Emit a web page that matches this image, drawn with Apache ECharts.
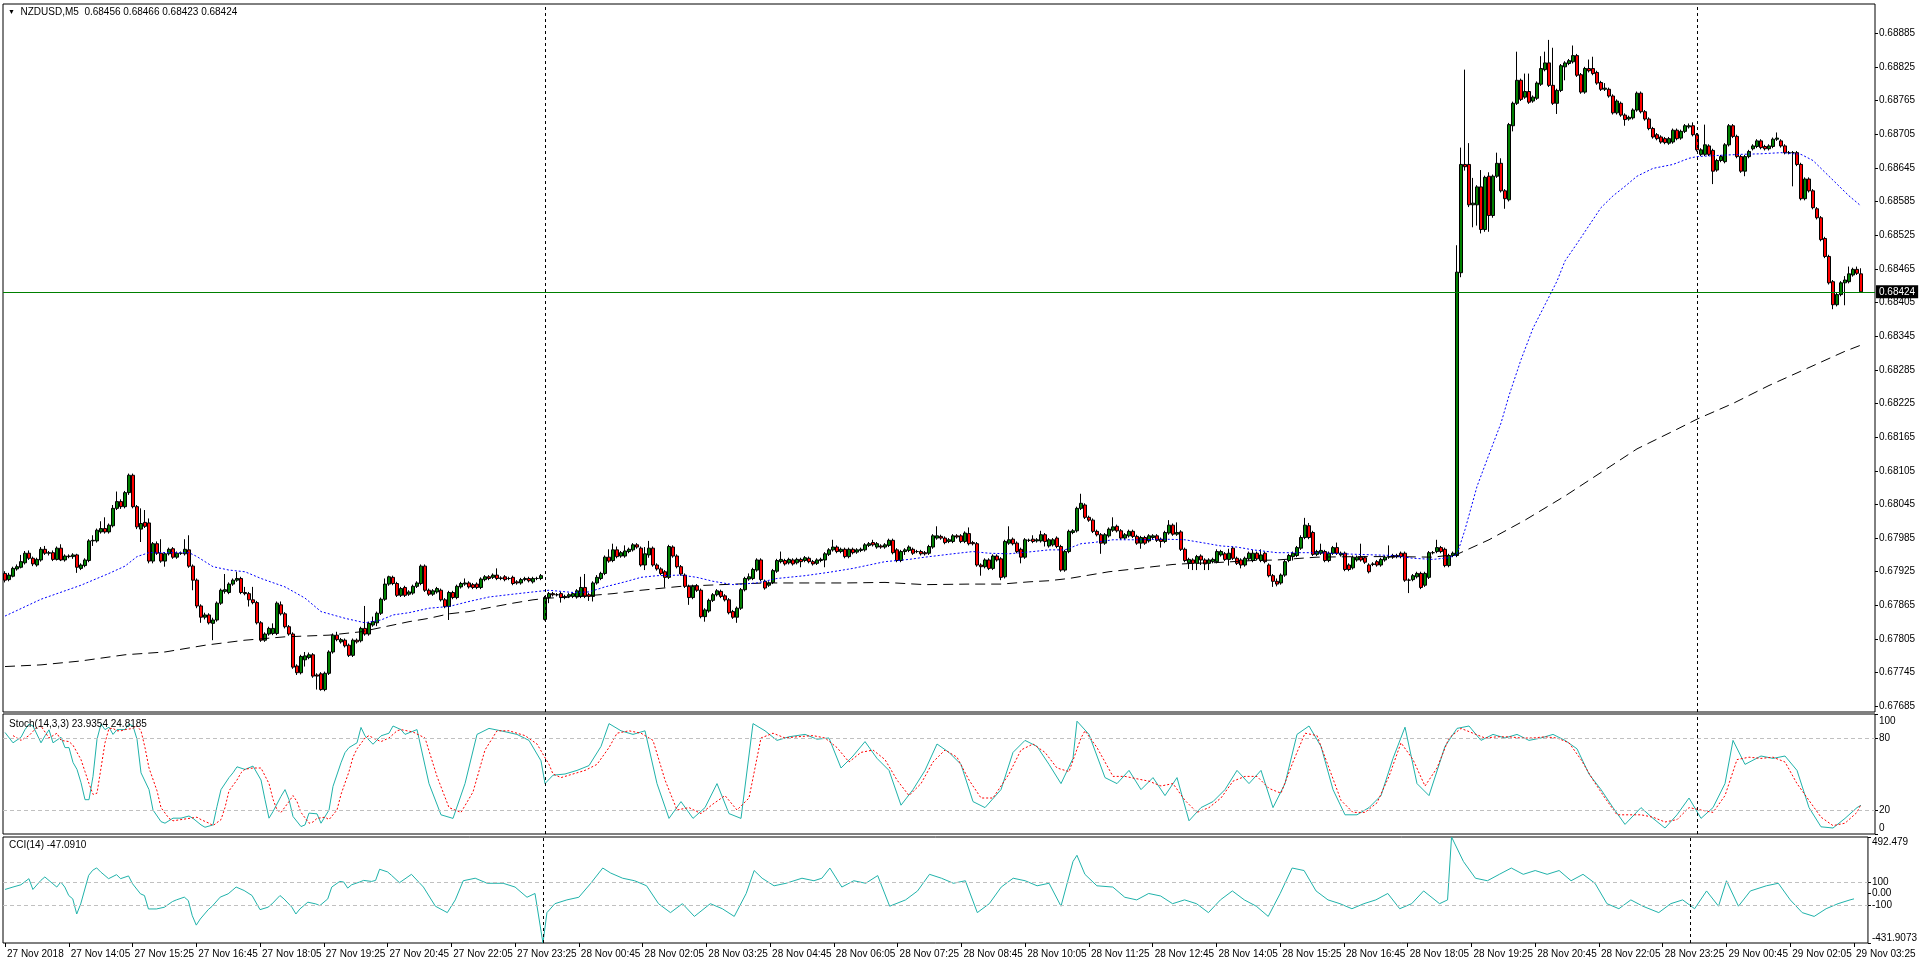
<!DOCTYPE html>
<html><head><meta charset="utf-8">
<script src="https://cdn.jsdelivr.net/npm/echarts@6.0.0/dist/echarts.min.js"></script>
<style>html,body{margin:0;padding:0;background:#fff;}#c{width:1920px;height:967px;}</style>
</head><body><div id="c"></div>
<script>
// ---------- data ----------
const mainTitle = 'NZDUSD,M5  0.68456 0.68466 0.68423 0.68424';
const stochTitle = 'Stoch(14,3,3) 23.9354 24.8185';
const cciTitle = 'CCI(14) -47.0910';
const lastPrice = 0.68424;
const daySeparators = ['28 Nov 00:00', '29 Nov 00:00'];
const timeTicks = ['27 Nov 2018','27 Nov 14:05','27 Nov 15:25','27 Nov 16:45','27 Nov 18:05','27 Nov 19:25','27 Nov 20:45','27 Nov 22:05','27 Nov 23:25','28 Nov 00:45','28 Nov 02:05','28 Nov 03:25','28 Nov 04:45','28 Nov 06:05','28 Nov 07:25','28 Nov 08:45','28 Nov 10:05','28 Nov 11:25','28 Nov 12:45','28 Nov 14:05','28 Nov 15:25','28 Nov 16:45','28 Nov 18:05','28 Nov 19:25','28 Nov 20:45','28 Nov 22:05','28 Nov 23:25','29 Nov 00:45','29 Nov 02:05','29 Nov 03:25'];
const priceTicks = [0.67685,0.67745,0.67805,0.67865,0.67925,0.67985,0.68045,0.68105,0.68165,0.68225,0.68285,0.68345,0.68405,0.68465,0.68525,0.68585,0.68645,0.68705,0.68765,0.68825,0.68885];
const stochTicks = [0,20,80,100];
const cciTicks = [-431.9073,-100,0,100,492.479];

const open = [
0.67922,0.67911,0.67917,0.67930,0.67933,0.67941,0.67958,0.67949,0.67937,0.67946,
0.67965,0.67958,0.67959,0.67947,0.67967,0.67946,0.67953,0.67952,0.67955,0.67931,
0.67936,0.67945,0.67980,0.67980,0.67996,0.68002,0.67996,0.68007,0.68038,0.68050,
0.68041,0.68066,0.68097,0.68041,0.68001,0.68013,0.68012,0.67944,0.67975,0.67958,
0.67944,0.67957,0.67966,0.67951,0.67958,0.67957,0.67964,0.67935,0.67910,0.67864,
0.67844,0.67848,0.67833,0.67839,0.67869,0.67890,0.67888,0.67903,0.67910,0.67913,
0.67888,0.67886,0.67875,0.67870,0.67834,0.67803,0.67814,0.67815,0.67815,0.67866,
0.67850,0.67827,0.67814,0.67757,0.67745,0.67768,0.67772,0.67777,0.67741,0.67743,
0.67715,0.67744,0.67782,0.67812,0.67800,0.67803,0.67794,0.67776,0.67803,0.67802,
0.67824,0.67814,0.67830,0.67834,0.67851,0.67876,0.67903,0.67915,0.67904,0.67883,
0.67897,0.67885,0.67887,0.67899,0.67904,0.67935,0.67892,0.67885,0.67889,0.67892,
0.67875,0.67863,0.67888,0.67879,0.67898,0.67903,0.67905,0.67902,0.67903,0.67897,
0.67911,0.67916,0.67915,0.67919,0.67913,0.67916,0.67913,0.67915,0.67907,0.67905,
0.67911,0.67913,0.67907,0.67913,0.67913,0.67840,0.67879,0.67886,0.67884,0.67886,
0.67879,0.67881,0.67881,0.67880,0.67881,0.67897,0.67884,0.67881,0.67905,0.67913,
0.67922,0.67951,0.67945,0.67964,0.67953,0.67953,0.67961,0.67964,0.67973,0.67967,
0.67937,0.67955,0.67967,0.67937,0.67930,0.67925,0.67915,0.67969,0.67953,0.67934,
0.67919,0.67899,0.67879,0.67900,0.67892,0.67845,0.67855,0.67874,0.67884,0.67890,
0.67882,0.67875,0.67854,0.67844,0.67860,0.67893,0.67912,0.67913,0.67928,0.67946,
0.67908,0.67901,0.67906,0.67926,0.67943,0.67945,0.67941,0.67946,0.67941,0.67947,
0.67945,0.67949,0.67943,0.67940,0.67945,0.67946,0.67956,0.67964,0.67969,0.67961,
0.67965,0.67952,0.67965,0.67960,0.67963,0.67964,0.67972,0.67977,0.67969,0.67971,
0.67969,0.67972,0.67981,0.67964,0.67945,0.67961,0.67963,0.67965,0.67961,0.67961,
0.67959,0.67958,0.67969,0.67985,0.67988,0.67985,0.67979,0.67979,0.67989,0.67989,
0.67979,0.67993,0.67977,0.67975,0.67937,0.67934,0.67946,0.67931,0.67953,0.67948,
0.67916,0.67976,0.67983,0.67976,0.67965,0.67951,0.67981,0.67983,0.67980,0.67980,
0.67991,0.67971,0.67973,0.67985,0.67970,0.67928,0.67961,0.67995,0.67998,0.68038,
0.68044,0.68022,0.68017,0.67997,0.67991,0.67976,0.67989,0.67999,0.68006,0.67998,
0.67985,0.67989,0.67997,0.67988,0.67976,0.67986,0.67980,0.67986,0.67989,0.67983,
0.67979,0.67994,0.68008,0.67992,0.67996,0.67965,0.67941,0.67946,0.67940,0.67953,
0.67946,0.67940,0.67943,0.67943,0.67955,0.67957,0.67947,0.67967,0.67949,0.67946,
0.67937,0.67948,0.67945,0.67958,0.67945,0.67958,0.67937,0.67918,0.67908,0.67905,
0.67919,0.67945,0.67952,0.67954,0.67967,0.67986,0.68007,0.67995,0.67956,0.67958,
0.67961,0.67945,0.67958,0.67968,0.67955,0.67958,0.67937,0.67932,0.67946,0.67951,
0.67950,0.67937,0.67938,0.67943,0.67937,0.67946,0.67951,0.67954,0.67954,0.67958,
0.67958,0.67910,0.67911,0.67916,0.67922,0.67901,0.67915,0.67959,0.67961,0.67968,
0.67965,0.67936,0.67954,0.67954,0.68458,0.68651,0.68651,0.68579,0.68579,0.68611,
0.68535,0.68630,0.68560,0.68630,0.68653,0.68604,0.68588,0.68720,0.68760,0.68801,
0.68771,0.68781,0.68764,0.68769,0.68794,0.68820,0.68832,0.68792,0.68760,0.68783,
0.68825,0.68831,0.68834,0.68845,0.68811,0.68780,0.68822,0.68822,0.68815,0.68797,
0.68785,0.68785,0.68773,0.68743,0.68760,0.68739,0.68732,0.68734,0.68748,0.68778,
0.68745,0.68732,0.68715,0.68704,0.68700,0.68697,0.68689,0.68691,0.68712,0.68698,
0.68710,0.68718,0.68720,0.68704,0.68669,0.68669,0.68684,0.68676,0.68641,0.68658,
0.68656,0.68686,0.68720,0.68701,0.68665,0.68639,0.68665,0.68679,0.68683,0.68693,
0.68683,0.68679,0.68683,0.68696,0.68693,0.68684,0.68672,0.68672,0.68672,0.68651,
0.68590,0.68625,0.68604,0.68572,0.68556,0.68519,0.68487,0.68442,0.68401,0.68419,
0.68440,0.68442,0.68454,0.68464,0.68456];

const high = [
0.67926,0.67923,0.67934,0.67938,0.67955,0.67962,0.67963,0.67952,0.67950,0.67969,
0.67971,0.67962,0.67963,0.67970,0.67974,0.67956,0.67956,0.67958,0.67957,0.67940,
0.67949,0.67983,0.67990,0.68002,0.68015,0.68022,0.68011,0.68044,0.68068,0.68054,
0.68069,0.68100,0.68100,0.68044,0.68038,0.68035,0.68020,0.67978,0.67979,0.67983,
0.67960,0.67968,0.67969,0.67961,0.67961,0.67983,0.67990,0.67938,0.67913,0.67867,
0.67852,0.67851,0.67843,0.67872,0.67895,0.67921,0.67906,0.67913,0.67925,0.67916,
0.67898,0.67889,0.67898,0.67873,0.67837,0.67817,0.67827,0.67833,0.67872,0.67872,
0.67853,0.67830,0.67817,0.67760,0.67777,0.67782,0.67781,0.67780,0.67744,0.67746,
0.67747,0.67785,0.67815,0.67818,0.67807,0.67806,0.67797,0.67806,0.67806,0.67827,
0.67864,0.67836,0.67845,0.67854,0.67879,0.67913,0.67918,0.67918,0.67907,0.67898,
0.67900,0.67892,0.67902,0.67908,0.67938,0.67938,0.67895,0.67894,0.67898,0.67895,
0.67878,0.67891,0.67891,0.67902,0.67907,0.67913,0.67908,0.67905,0.67906,0.67915,
0.67919,0.67919,0.67922,0.67931,0.67917,0.67919,0.67916,0.67918,0.67910,0.67914,
0.67916,0.67916,0.67916,0.67916,0.67921,0.67882,0.67889,0.67889,0.67887,0.67889,
0.67884,0.67887,0.67889,0.67894,0.67916,0.67921,0.67887,0.67908,0.67919,0.67925,
0.67954,0.67965,0.67975,0.67970,0.67962,0.67972,0.67968,0.67976,0.67976,0.67970,
0.67969,0.67980,0.67970,0.67940,0.67933,0.67928,0.67973,0.67972,0.67956,0.67937,
0.67922,0.67902,0.67902,0.67903,0.67895,0.67860,0.67877,0.67887,0.67894,0.67893,
0.67885,0.67878,0.67857,0.67863,0.67896,0.67916,0.67922,0.67932,0.67949,0.67949,
0.67911,0.67908,0.67930,0.67948,0.67961,0.67948,0.67950,0.67949,0.67950,0.67950,
0.67953,0.67952,0.67946,0.67949,0.67950,0.67960,0.67967,0.67982,0.67972,0.67968,
0.67968,0.67968,0.67968,0.67967,0.67968,0.67976,0.67978,0.67982,0.67978,0.67974,
0.67976,0.67984,0.67984,0.67967,0.67964,0.67967,0.67972,0.67968,0.67964,0.67964,
0.67962,0.67973,0.67992,0.68006,0.67991,0.67988,0.67985,0.67992,0.67992,0.67992,
0.67997,0.68004,0.67980,0.67978,0.67940,0.67949,0.67949,0.67956,0.67956,0.67951,
0.67982,0.68006,0.67986,0.67979,0.67968,0.67985,0.67984,0.67990,0.67985,0.67998,
0.67994,0.67985,0.67985,0.67988,0.67973,0.67964,0.68000,0.68001,0.68041,0.68064,
0.68047,0.68025,0.68020,0.68000,0.67994,0.67994,0.68004,0.68022,0.68009,0.68001,
0.67994,0.68000,0.68000,0.67991,0.67989,0.67989,0.67992,0.67992,0.67992,0.67986,
0.67998,0.68017,0.68011,0.68013,0.67999,0.67968,0.67950,0.67949,0.67955,0.67956,
0.67949,0.67949,0.67950,0.67965,0.67964,0.67960,0.67966,0.67970,0.67952,0.67949,
0.67952,0.67961,0.67964,0.67961,0.67965,0.67961,0.67940,0.67921,0.67913,0.67922,
0.67946,0.67957,0.67961,0.67971,0.67990,0.68021,0.68012,0.67998,0.67964,0.67975,
0.67964,0.67961,0.67971,0.67977,0.67961,0.67961,0.67940,0.67954,0.67954,0.67975,
0.67953,0.67940,0.67942,0.67946,0.67950,0.67954,0.67972,0.67957,0.67957,0.67961,
0.67961,0.67913,0.67921,0.67925,0.67925,0.67925,0.67962,0.67962,0.67982,0.67971,
0.67968,0.67957,0.67961,0.68507,0.68681,0.68820,0.68689,0.68627,0.68614,0.68641,
0.68631,0.68637,0.68633,0.68672,0.68662,0.68607,0.68725,0.68763,0.68852,0.68804,
0.68813,0.68813,0.68774,0.68799,0.68844,0.68852,0.68873,0.68859,0.68786,0.68830,
0.68835,0.68839,0.68863,0.68848,0.68814,0.68825,0.68838,0.68843,0.68818,0.68800,
0.68796,0.68788,0.68776,0.68767,0.68763,0.68742,0.68738,0.68751,0.68781,0.68781,
0.68748,0.68735,0.68718,0.68707,0.68703,0.68700,0.68700,0.68715,0.68715,0.68713,
0.68723,0.68724,0.68726,0.68707,0.68680,0.68722,0.68687,0.68679,0.68661,0.68668,
0.68689,0.68723,0.68723,0.68704,0.68668,0.68668,0.68677,0.68687,0.68696,0.68696,
0.68686,0.68687,0.68699,0.68708,0.68696,0.68687,0.68675,0.68675,0.68675,0.68654,
0.68628,0.68628,0.68607,0.68575,0.68559,0.68522,0.68490,0.68445,0.68422,0.68443,
0.68452,0.68469,0.68467,0.68469,0.68466];

const low = [
0.67906,0.67908,0.67915,0.67927,0.67931,0.67938,0.67946,0.67935,0.67934,0.67943,
0.67955,0.67954,0.67944,0.67945,0.67944,0.67943,0.67949,0.67948,0.67923,0.67928,
0.67933,0.67942,0.67971,0.67977,0.67993,0.67993,0.67993,0.68004,0.68035,0.68037,
0.68038,0.68062,0.68038,0.68001,0.67978,0.68003,0.67940,0.67940,0.67955,0.67941,
0.67934,0.67954,0.67948,0.67948,0.67955,0.67954,0.67932,0.67892,0.67860,0.67834,
0.67840,0.67831,0.67803,0.67836,0.67866,0.67886,0.67885,0.67900,0.67907,0.67885,
0.67883,0.67863,0.67867,0.67831,0.67800,0.67800,0.67811,0.67812,0.67812,0.67847,
0.67824,0.67811,0.67752,0.67741,0.67742,0.67756,0.67769,0.67736,0.67715,0.67713,
0.67712,0.67741,0.67779,0.67801,0.67797,0.67790,0.67773,0.67773,0.67797,0.67799,
0.67811,0.67811,0.67827,0.67828,0.67848,0.67873,0.67900,0.67901,0.67880,0.67880,
0.67880,0.67882,0.67884,0.67896,0.67901,0.67889,0.67882,0.67882,0.67886,0.67872,
0.67860,0.67839,0.67876,0.67876,0.67895,0.67900,0.67895,0.67894,0.67894,0.67894,
0.67908,0.67910,0.67912,0.67910,0.67910,0.67908,0.67910,0.67901,0.67902,0.67902,
0.67908,0.67906,0.67904,0.67910,0.67910,0.67838,0.67869,0.67881,0.67881,0.67870,
0.67876,0.67878,0.67878,0.67877,0.67878,0.67878,0.67873,0.67872,0.67902,0.67910,
0.67919,0.67941,0.67942,0.67949,0.67950,0.67950,0.67958,0.67961,0.67966,0.67934,
0.67928,0.67950,0.67934,0.67927,0.67919,0.67897,0.67912,0.67950,0.67931,0.67918,
0.67896,0.67866,0.67876,0.67889,0.67842,0.67836,0.67852,0.67871,0.67881,0.67878,
0.67872,0.67849,0.67841,0.67834,0.67857,0.67890,0.67909,0.67910,0.67925,0.67908,
0.67893,0.67898,0.67903,0.67923,0.67940,0.67936,0.67938,0.67936,0.67938,0.67933,
0.67942,0.67940,0.67936,0.67937,0.67942,0.67933,0.67953,0.67961,0.67958,0.67958,
0.67949,0.67949,0.67956,0.67957,0.67960,0.67961,0.67969,0.67970,0.67966,0.67966,
0.67966,0.67969,0.67956,0.67942,0.67942,0.67955,0.67960,0.67955,0.67958,0.67954,
0.67954,0.67955,0.67966,0.67982,0.67982,0.67974,0.67976,0.67976,0.67984,0.67976,
0.67976,0.67972,0.67972,0.67934,0.67918,0.67931,0.67928,0.67928,0.67943,0.67910,
0.67913,0.67973,0.67972,0.67958,0.67940,0.67948,0.67978,0.67976,0.67977,0.67977,
0.67970,0.67968,0.67970,0.67967,0.67925,0.67925,0.67958,0.67992,0.67995,0.68035,
0.68019,0.68014,0.67994,0.67988,0.67957,0.67973,0.67986,0.67996,0.67995,0.67982,
0.67982,0.67986,0.67985,0.67973,0.67966,0.67973,0.67977,0.67983,0.67978,0.67968,
0.67976,0.67991,0.67989,0.67989,0.67962,0.67942,0.67930,0.67928,0.67928,0.67937,
0.67928,0.67928,0.67940,0.67940,0.67952,0.67944,0.67936,0.67946,0.67937,0.67931,
0.67934,0.67945,0.67942,0.67945,0.67942,0.67940,0.67915,0.67898,0.67899,0.67902,
0.67916,0.67942,0.67945,0.67951,0.67964,0.67983,0.67983,0.67953,0.67953,0.67955,
0.67942,0.67942,0.67955,0.67955,0.67952,0.67926,0.67926,0.67929,0.67943,0.67943,
0.67939,0.67922,0.67935,0.67934,0.67934,0.67943,0.67948,0.67948,0.67949,0.67949,
0.67907,0.67887,0.67908,0.67913,0.67894,0.67898,0.67912,0.67956,0.67958,0.67958,
0.67933,0.67933,0.67951,0.67951,0.68450,0.68640,0.68575,0.68539,0.68542,0.68528,
0.68531,0.68531,0.68556,0.68627,0.68601,0.68572,0.68585,0.68710,0.68757,0.68764,
0.68768,0.68759,0.68761,0.68766,0.68791,0.68817,0.68789,0.68757,0.68741,0.68780,
0.68801,0.68828,0.68831,0.68807,0.68777,0.68777,0.68815,0.68810,0.68793,0.68782,
0.68782,0.68770,0.68740,0.68740,0.68736,0.68720,0.68729,0.68731,0.68745,0.68742,
0.68729,0.68712,0.68697,0.68694,0.68688,0.68687,0.68686,0.68688,0.68694,0.68695,
0.68707,0.68715,0.68701,0.68674,0.68666,0.68666,0.68666,0.68616,0.68638,0.68655,
0.68653,0.68683,0.68698,0.68662,0.68636,0.68630,0.68662,0.68676,0.68680,0.68678,
0.68676,0.68676,0.68680,0.68693,0.68681,0.68669,0.68669,0.68612,0.68648,0.68587,
0.68587,0.68601,0.68571,0.68553,0.68514,0.68484,0.68437,0.68393,0.68398,0.68416,
0.68400,0.68439,0.68451,0.68454,0.68423];

const close = [
0.67910,0.67919,0.67931,0.67934,0.67943,0.67958,0.67949,0.67939,0.67947,0.67965,
0.67958,0.67959,0.67947,0.67967,0.67946,0.67953,0.67952,0.67955,0.67933,0.67937,
0.67946,0.67980,0.67981,0.67999,0.68002,0.67996,0.68008,0.68038,0.68050,0.68041,
0.68066,0.68097,0.68041,0.68005,0.68011,0.68006,0.67944,0.67975,0.67958,0.67944,
0.67957,0.67965,0.67951,0.67958,0.67958,0.67965,0.67935,0.67910,0.67864,0.67844,
0.67848,0.67834,0.67839,0.67869,0.67892,0.67893,0.67903,0.67910,0.67913,0.67888,
0.67886,0.67875,0.67870,0.67834,0.67803,0.67814,0.67824,0.67824,0.67869,0.67850,
0.67827,0.67814,0.67755,0.67745,0.67774,0.67775,0.67777,0.67739,0.67739,0.67715,
0.67744,0.67782,0.67812,0.67804,0.67804,0.67793,0.67776,0.67803,0.67800,0.67824,
0.67814,0.67833,0.67836,0.67851,0.67876,0.67903,0.67916,0.67904,0.67883,0.67895,
0.67883,0.67889,0.67899,0.67905,0.67935,0.67892,0.67885,0.67891,0.67895,0.67875,
0.67863,0.67888,0.67879,0.67899,0.67904,0.67905,0.67898,0.67897,0.67897,0.67912,
0.67916,0.67913,0.67919,0.67913,0.67914,0.67911,0.67913,0.67904,0.67905,0.67911,
0.67913,0.67909,0.67913,0.67913,0.67918,0.67879,0.67886,0.67884,0.67884,0.67879,
0.67881,0.67884,0.67886,0.67891,0.67897,0.67881,0.67881,0.67905,0.67915,0.67922,
0.67951,0.67944,0.67964,0.67952,0.67959,0.67962,0.67965,0.67973,0.67969,0.67937,
0.67957,0.67967,0.67937,0.67930,0.67922,0.67915,0.67970,0.67953,0.67934,0.67921,
0.67899,0.67879,0.67899,0.67892,0.67845,0.67857,0.67874,0.67884,0.67891,0.67881,
0.67875,0.67852,0.67844,0.67860,0.67893,0.67913,0.67916,0.67929,0.67946,0.67911,
0.67896,0.67905,0.67927,0.67945,0.67947,0.67939,0.67947,0.67939,0.67947,0.67943,
0.67950,0.67943,0.67939,0.67946,0.67947,0.67957,0.67964,0.67969,0.67961,0.67965,
0.67952,0.67965,0.67959,0.67964,0.67965,0.67973,0.67975,0.67973,0.67975,0.67969,
0.67973,0.67981,0.67959,0.67945,0.67961,0.67964,0.67969,0.67958,0.67961,0.67957,
0.67957,0.67970,0.67989,0.67989,0.67985,0.67977,0.67982,0.67989,0.67987,0.67979,
0.67994,0.67975,0.67975,0.67937,0.67934,0.67946,0.67931,0.67953,0.67946,0.67915,
0.67979,0.67982,0.67975,0.67961,0.67951,0.67982,0.67981,0.67979,0.67982,0.67991,
0.67979,0.67982,0.67982,0.67970,0.67928,0.67961,0.67997,0.67998,0.68038,0.68047,
0.68022,0.68017,0.67997,0.67991,0.67976,0.67991,0.68001,0.68005,0.67998,0.67985,
0.67991,0.67997,0.67988,0.67976,0.67986,0.67976,0.67989,0.67989,0.67981,0.67979,
0.67995,0.68008,0.67992,0.67995,0.67965,0.67945,0.67947,0.67940,0.67952,0.67946,
0.67939,0.67946,0.67947,0.67961,0.67961,0.67947,0.67958,0.67949,0.67940,0.67937,
0.67949,0.67958,0.67958,0.67948,0.67955,0.67943,0.67918,0.67908,0.67903,0.67919,
0.67943,0.67954,0.67958,0.67968,0.67986,0.68008,0.67986,0.67956,0.67961,0.67963,
0.67945,0.67958,0.67968,0.67958,0.67958,0.67929,0.67929,0.67951,0.67951,0.67946,
0.67942,0.67925,0.67939,0.67937,0.67947,0.67951,0.67952,0.67951,0.67952,0.67952,
0.67910,0.67910,0.67918,0.67922,0.67897,0.67922,0.67959,0.67959,0.67968,0.67961,
0.67936,0.67954,0.67958,0.68459,0.68651,0.68647,0.68579,0.68582,0.68611,0.68535,
0.68628,0.68560,0.68630,0.68653,0.68604,0.68590,0.68722,0.68760,0.68801,0.68767,
0.68781,0.68762,0.68771,0.68796,0.68822,0.68832,0.68792,0.68760,0.68783,0.68827,
0.68832,0.68836,0.68845,0.68810,0.68780,0.68822,0.68818,0.68813,0.68796,0.68785,
0.68787,0.68773,0.68743,0.68764,0.68739,0.68731,0.68735,0.68748,0.68778,0.68745,
0.68732,0.68715,0.68700,0.68697,0.68691,0.68690,0.68697,0.68712,0.68697,0.68710,
0.68720,0.68720,0.68704,0.68677,0.68677,0.68686,0.68669,0.68639,0.68658,0.68665,
0.68686,0.68720,0.68701,0.68665,0.68639,0.68665,0.68674,0.68684,0.68693,0.68681,
0.68679,0.68684,0.68696,0.68698,0.68684,0.68672,0.68672,0.68672,0.68651,0.68590,
0.68625,0.68604,0.68574,0.68556,0.68517,0.68487,0.68440,0.68401,0.68419,0.68440,
0.68445,0.68456,0.68464,0.68457,0.68424];

// moving averages: [bar index, value]
const maFast = [[0,0.67846],[9,0.67876],[19,0.67901],[26,0.67922],[30,0.67935],[33,0.67952],[36,0.67959],[46,0.67959],[48,0.67952],[52,0.67934],[56,0.67928],[60,0.67925],[64,0.67913],[70,0.67898],[75,0.67878],[79,0.67854],[85,0.67842],[90,0.67834],[94,0.67839],[97,0.67848],[101,0.67852],[106,0.67860],[111,0.67863],[116,0.67872],[121,0.67880],[127,0.67885],[132,0.67889],[136,0.67892],[142,0.67888],[146,0.67889],[150,0.67898],[155,0.67907],[159,0.67915],[163,0.67918],[169,0.67919],[173,0.67915],[177,0.67908],[182,0.67902],[188,0.67905],[193,0.67913],[200,0.67918],[206,0.67924],[212,0.67931],[220,0.67943],[226,0.67947],[230,0.67951],[237,0.67957],[242,0.67961],[246,0.67958],[251,0.67957],[257,0.67961],[261,0.67964],[265,0.67964],[269,0.67975],[272,0.67977],[277,0.67982],[283,0.67982],[290,0.67983],[295,0.67982],[300,0.67976],[304,0.67971],[308,0.67969],[312,0.67964],[318,0.67959],[328,0.67959],[338,0.67956],[347,0.67954],[352,0.67949],[357,0.67947],[361,0.67950],[363,0.67956],[365,0.68000],[368,0.68077],[371,0.68134],[374,0.68190],[376,0.68239],[379,0.68303],[382,0.68359],[385,0.68401],[388,0.68443],[390,0.68479],[393,0.68510],[396,0.68542],[399,0.68574],[402,0.68595],[405,0.68612],[408,0.68630],[412,0.68644],[417,0.68651],[421,0.68662],[423,0.68665],[428,0.68667],[434,0.68669],[439,0.68670],[444,0.68672],[449,0.68669],[452,0.68658],[455,0.68637],[458,0.68616],[461,0.68595],[464,0.68577]];
const maSlow = [[0,0.67756],[9,0.67759],[19,0.67766],[30,0.67777],[40,0.67782],[50,0.67794],[60,0.67803],[70,0.67809],[81,0.67812],[89,0.67818],[93,0.67824],[97,0.67830],[101,0.67836],[106,0.67842],[111,0.67850],[116,0.67854],[121,0.67861],[127,0.67869],[132,0.67875],[136,0.67878],[142,0.67880],[147,0.67883],[152,0.67886],[159,0.67892],[169,0.67899],[179,0.67902],[190,0.67905],[200,0.67905],[210,0.67905],[220,0.67906],[230,0.67902],[241,0.67903],[249,0.67903],[256,0.67907],[261,0.67909],[266,0.67913],[271,0.67919],[276,0.67925],[281,0.67929],[287,0.67934],[292,0.67938],[297,0.67940],[302,0.67941],[307,0.67943],[312,0.67945],[318,0.67946],[328,0.67951],[338,0.67952],[347,0.67952],[357,0.67951],[363,0.67956],[371,0.67982],[380,0.68017],[390,0.68060],[399,0.68102],[408,0.68144],[418,0.68179],[423,0.68197],[432,0.68225],[441,0.68257],[451,0.68289],[460,0.68318],[464,0.68329]];

// stochastic %K (teal) and %D (red dotted): [bar index, value]
const stochK = [[0,84.6],[2,76],[4,80.6],[5,87],[6,91.6],[7,90],[9,76],[10,81.8],[11,86.8],[12,76],[14,80.6],[15,72],[16,72],[17,59.6],[18,53.8],[19,42.8],[20,28.6],[21,28.6],[22,48],[23,79],[24,91.6],[25,87],[26,89],[27,83],[28,87],[30,87],[31,91.6],[32,90],[33,79],[34,51],[36,37],[37,20],[39,10.3],[40,9],[42,13.2],[44,13.2],[46,15],[47,13],[49,7.6],[50,5.6],[52,7.6],[53,23],[54,37],[56,47],[57,51],[58,56],[60,53.8],[62,56.6],[64,45],[65,28.6],[66,13.2],[67,18.7],[69,31.4],[70,37],[71,28.6],[72,14.6],[74,6.2],[75,7.6],[76,17.4],[78,16.8],[79,9],[81,20],[82,39.7],[84,59.4],[85,67.8],[86,72],[88,76],[89,88.8],[90,81.8],[92,74.8],[94,81.8],[96,84],[97,90],[99,87],[100,83],[103,87],[106,42],[109,16],[112,13],[115,42],[118,83],[121,88],[124,86],[128,83],[131,78],[134,61],[135,42],[137,49],[140,50],[143,53],[146,57],[149,73],[151,92],[154,86],[157,83],[160,86],[163,42],[166,13],[169,27],[172,13],[175,22],[178,42],[181,17],[184,13],[187,92],[190,86],[193,78],[196,81],[200,83],[203,79],[206,80],[209,55],[212,65],[215,77],[218,63],[221,53],[224,24],[227,37],[230,53],[233,75],[236,68],[239,58],[242,27],[245,22],[249,37],[252,68],[255,78],[258,73],[261,58],[264,42],[267,63],[268,94],[271,83],[275,47],[278,42],[281,53],[284,37],[287,47],[290,32],[293,47],[296,11],[299,22],[302,27],[305,37],[308,53],[311,42],[314,53],[317,22],[320,42],[323,83],[326,90],[329,73],[332,37],[335,16],[338,16],[341,22],[344,32],[347,63],[350,89],[353,42],[356,32],[360,73],[363,88],[366,90],[369,78],[372,83],[375,80],[378,83],[381,78],[384,80],[387,83],[390,78],[393,71],[396,50],[399,37],[402,22],[405,8],[409,22],[412,13],[415,5],[418,16],[421,30],[424,13],[427,22],[430,42],[432,78],[435,58],[439,65],[442,63],[445,65],[448,53],[451,22],[454,6],[457,5],[460,13],[463,22],[464,23.9354]];
const stochD = [[2,82],[4,78],[6,82],[8,89],[9,90],[11,80],[12,82],[13,84],[14,78],[16,77],[17,74],[18,68],[19,62],[20,52],[21,42],[22,33],[23,34],[24,55],[25,76],[26,88],[27,88],[28,86],[29,86],[30,87],[32,88],[33,90],[34,86],[35,72],[36,55],[38,36],[39,22],[41,13],[42,11],[44,12],[46,13],[48,14],[49,12],[51,9],[52,7],[54,12],[55,22],[56,36],[58,45],[59,51],[60,54],[62,55],[64,55],[66,42],[67,29],[68,20],[69,18],[71,27],[72,32],[73,27],[74,18],[76,9],[77,10],[78,13],[80,14],[81,12],[83,20],[84,33],[86,52],[87,64],[88,71],[90,80],[91,82],[92,80],[94,77],[96,80],[98,86],[99,87],[102,85],[105,80],[108,48],[111,22],[114,18],[117,35],[120,70],[123,86],[126,86],[130,82],[133,75],[136,58],[137,50],[139,47],[142,50],[145,53],[148,58],[151,72],[153,84],[156,86],[159,84],[162,78],[165,45],[168,20],[171,22],[174,17],[177,25],[180,32],[183,20],[186,30],[189,80],[192,84],[195,80],[198,81],[202,82],[205,80],[208,72],[211,60],[214,68],[217,70],[220,62],[223,45],[226,32],[229,42],[232,60],[235,70],[238,64],[241,45],[244,30],[247,30],[251,50],[254,70],[257,75],[260,68],[263,55],[266,52],[269,80],[270,86],[273,72],[277,48],[280,48],[283,46],[286,44],[289,40],[292,42],[295,28],[298,18],[301,22],[304,30],[307,44],[310,48],[313,48],[316,38],[319,34],[322,60],[325,84],[328,82],[331,55],[334,28],[337,18],[340,18],[343,26],[346,48],[349,76],[352,62],[355,40],[358,55],[361,80],[364,88],[367,84],[370,80],[373,81],[376,81],[379,80],[382,80],[385,81],[388,80],[391,76],[394,62],[397,45],[400,30],[403,16],[406,16],[409,16],[412,14],[415,10],[418,12],[421,22],[424,20],[427,18],[430,32],[433,62],[436,64],[439,63],[442,64],[445,60],[448,42],[451,28],[454,14],[457,7],[460,9],[463,18],[464,24.8185]];

// CCI(14): [bar index, value]
const cci = [[0,35],[2,56],[4,76],[6,129],[7,35],[9,114],[10,144],[12,85],[13,56],[14,100],[15,56],[16,-18],[17,-47],[18,-179],[19,-91],[21,158],[22,202],[23,223],[24,188],[26,129],[28,164],[29,129],[31,153],[32,85],[34,-3],[35,-18],[36,-135],[38,-135],[40,-120],[42,-71],[43,-56],[45,-32],[46,-62],[47,-194],[48,-276],[49,-223],[51,-141],[52,-111],[54,-32],[56,-3],[57,26],[58,56],[60,26],[62,-18],[64,-141],[66,-120],[67,-91],[69,-18],[70,-47],[72,-120],[73,-179],[74,-135],[76,-76],[78,-91],[79,-106],[81,-47],[82,56],[84,105],[85,100],[86,47],[87,76],[89,100],[90,114],[92,105],[93,114],[94,211],[96,188],[97,158],[99,94],[102,167],[105,56],[108,-111],[111,-167],[113,-56],[115,111],[118,133],[121,89],[125,89],[128,56],[131,-33],[133,0],[135,-431.9073],[136,-167],[138,-89],[141,-56],[144,-33],[147,89],[150,222],[152,178],[155,133],[158,111],[161,67],[164,-89],[167,-167],[170,-89],[173,-200],[177,-89],[180,-133],[183,-200],[186,0],[188,200],[190,133],[193,67],[196,89],[200,133],[203,111],[205,133],[207,222],[210,56],[213,111],[216,89],[219,156],[222,-111],[226,-56],[229,22],[232,167],[235,133],[238,89],[241,111],[244,-167],[247,-89],[250,56],[253,133],[256,111],[259,67],[262,89],[265,-111],[268,278],[269,333],[271,167],[274,67],[278,56],[281,-33],[284,-56],[287,0],[290,-22],[293,-89],[296,-56],[299,-89],[302,-167],[305,-56],[308,22],[311,-56],[314,-111],[317,-200],[320,0],[323,222],[326,200],[329,22],[332,-56],[335,-89],[338,-133],[341,-89],[344,-56],[347,0],[350,-133],[353,-89],[356,22],[360,-89],[362,-56],[363,492.479],[366,278],[369,133],[372,111],[375,167],[378,222],[381,167],[384,200],[387,167],[390,200],[393,111],[396,167],[399,89],[402,-89],[405,-133],[408,-56],[411,-111],[415,-167],[418,-89],[421,-56],[424,-133],[427,22],[430,-111],[432,111],[435,-111],[438,22],[442,67],[445,89],[448,-56],[451,-167],[454,-200],[457,-133],[460,-89],[463,-56],[464,-47.091]];

// ---------- chart ----------
const FONT = '"Liberation Sans", Arial, sans-serif';
const N = close.length;
const MON = ['Jan','Feb','Mar','Apr','May','Jun','Jul','Aug','Sep','Oct','Nov','Dec'];
const t0 = Date.UTC(2018, 10, 27, 12, 45);
const cats = [];
for (let i = 0; i < N; i++) {
  const d = new Date(t0 + i * 300000);
  cats.push(d.getUTCDate() + ' ' + MON[d.getUTCMonth()] + ' ' +
    String(d.getUTCHours()).padStart(2, '0') + ':' + String(d.getUTCMinutes()).padStart(2, '0'));
}
for (let k = 0; k < 3; k++) cats.push('pad' + k);

const ohlc = open.map((o, i) => [o, close[i], low[i], high[i]]);

const L = 3, W = 1872;
const grids = [
  { left: L, top: 4, width: W, height: 708 },
  { left: L, top: 714, width: W, height: 120 },
  { left: L, top: 837, width: W, height: 106 }
].map(g => Object.assign(g, { show: true, borderColor: '#000', borderWidth: 1, backgroundColor: 'transparent' }));

const sepLines = daySeparators.map(s => ({ xAxis: s, lineStyle: { color: '#000', type: [3, 3], width: 1 }, label: { show: false } }));
const levelStyle = { color: '#c0c0c0', type: [4, 3], width: 1 };
const lblBase = { color: '#000', fontSize: 10, fontFamily: FONT };

const xAxes = [0, 1, 2].map(g => ({
  type: 'category', gridIndex: g, data: cats, boundaryGap: true, position: 'bottom',
  axisLine: { show: false, onZero: false },
  splitLine: { show: false },
  axisTick: { show: g === 2, interval: 15, alignWithLabel: true, length: 4, lineStyle: { color: '#000' } },
  axisLabel: {
    show: g === 2, interval: 15, align: 'left', margin: 6, padding: [0, 0, 0, 2],
    color: '#000', fontSize: 10, fontFamily: FONT,
    formatter: (v, idx) => (idx < N && idx % 16 === 0) ? (timeTicks[idx / 16] || '') : ''
  }
}));

const yAxes = [
  {
    type: 'value', gridIndex: 0, position: 'right', min: 0.67675, max: 0.68937,
    splitLine: { show: false }, axisLine: { show: false, onZero: false },
    axisTick: { show: true, length: 3, customValues: priceTicks, lineStyle: { color: '#000' } },
    axisLabel: Object.assign({ customValues: priceTicks, margin: 4, formatter: v => v.toFixed(5) }, lblBase)
  },
  {
    type: 'value', gridIndex: 1, position: 'right', min: 0, max: 100,
    splitLine: { show: false }, axisLine: { show: false, onZero: false },
    axisTick: { show: true, length: 3, customValues: stochTicks, lineStyle: { color: '#000' } },
    axisLabel: Object.assign({
      customValues: stochTicks, margin: 4,
      formatter: v => v === 100 ? '{t|100}' : (v === 0 ? '{b|0}' : String(v)),
      rich: { t: Object.assign({ padding: [15, 0, 0, 0] }, lblBase), b: Object.assign({ padding: [0, 0, 12, 0] }, lblBase) }
    }, lblBase)
  },
  {
    type: 'value', gridIndex: 2, position: 'right', min: -431.9073, max: 492.479,
    splitLine: { show: false }, axisLine: { show: false, onZero: false },
    axisTick: { show: true, length: 3, customValues: cciTicks, lineStyle: { color: '#000' } },
    axisLabel: Object.assign({
      customValues: cciTicks, margin: 4,
      formatter: v => v === 492.479 ? '{t|492.479}' : (v === -431.9073 ? '{b|-431.9073}' : (v === 0 ? '0.00' : String(v))),
      rich: { t: Object.assign({ padding: [11, 0, 0, 0] }, lblBase), b: Object.assign({ padding: [0, 0, 10, 0] }, lblBase) }
    }, lblBase)
  }
];

const titleStyle = { fontSize: 10, fontWeight: 'normal', color: '#000', fontFamily: FONT };
const option = {
  animation: false,
  backgroundColor: '#fff',
  title: [
    { text: '{tri|▼}  ' + mainTitle, left: 8, top: 7, padding: 0,
      textStyle: Object.assign({ rich: { tri: { fontSize: 7, color: '#000', fontFamily: FONT } } }, titleStyle) },
    { text: stochTitle, left: 9, top: 719, padding: 0, textStyle: titleStyle },
    { text: cciTitle, left: 9, top: 840, padding: 0, textStyle: titleStyle }
  ],
  grid: grids,
  xAxis: xAxes,
  yAxis: yAxes,
  series: [
    {
      type: 'candlestick', xAxisIndex: 0, yAxisIndex: 0, data: ohlc, barWidth: 3,
      itemStyle: { color: '#008000', color0: '#ff0000', borderColor: '#000', borderColor0: '#000', borderColorDoji: '#000', borderWidth: 1 },
      silent: true, z: 2,
      markLine: { silent: true, symbol: 'none', animation: false, data: sepLines }
    },
    { type: 'line', xAxisIndex: 0, yAxisIndex: 0, data: maSlow, showSymbol: false, silent: true, z: 3,
      lineStyle: { color: '#000', width: 1, type: [10, 6] },
      markLine: {
        silent: true, symbol: 'none', animation: false, precision: 5,
        data: [
          { yAxis: lastPrice, lineStyle: { color: '#008000', type: 'solid', width: 1 },
            label: { show: true, position: 'end', formatter: () => lastPrice.toFixed(5), color: '#fff', backgroundColor: '#000',
              padding: [2, 3, 1, 3], distance: 1, fontSize: 10, fontFamily: FONT } }
        ]
      } },
    { type: 'line', xAxisIndex: 0, yAxisIndex: 0, data: maFast, showSymbol: false, silent: true, z: 3,
      lineStyle: { color: '#0000ff', width: 1, type: [2, 2] } },
    { type: 'line', xAxisIndex: 1, yAxisIndex: 1, data: stochK, showSymbol: false, silent: true, z: 3,
      lineStyle: { color: '#20b2aa', width: 1 },
      markLine: { silent: true, symbol: 'none', animation: false, precision: 4,
        data: [{ yAxis: 80, lineStyle: levelStyle, label: { show: false } }, { yAxis: 20, lineStyle: levelStyle, label: { show: false } }].concat(sepLines) } },
    { type: 'line', xAxisIndex: 1, yAxisIndex: 1, data: stochD, showSymbol: false, silent: true, z: 3,
      lineStyle: { color: '#ff0000', width: 1, type: [2, 2] } },
    { type: 'line', xAxisIndex: 2, yAxisIndex: 2, data: cci, showSymbol: false, silent: true, z: 3,
      lineStyle: { color: '#20b2aa', width: 1 },
      markLine: { silent: true, symbol: 'none', animation: false, precision: 4,
        data: [{ yAxis: 100, lineStyle: levelStyle, label: { show: false } }, { yAxis: -100, lineStyle: levelStyle, label: { show: false } }].concat(sepLines) } }
  ]
};
const chart = echarts.init(document.getElementById('c'));
chart.setOption(option);
</script>
</body></html>
